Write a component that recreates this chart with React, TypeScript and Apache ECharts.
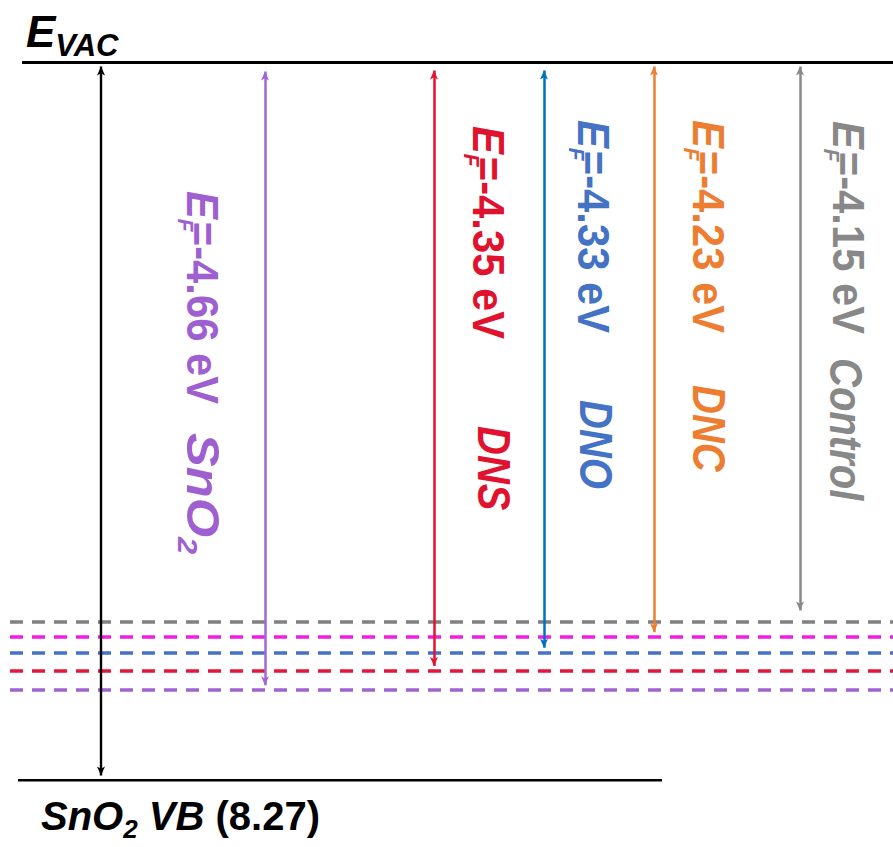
import React, { useEffect, useRef } from 'react';
import * as echarts from 'echarts';

// ---------------- data ----------------
const samples = ['SnO2', 'DNS', 'DNO', 'DNC', 'Control'];
const fermiLevels = [-4.66, -4.35, -4.33, -4.23, -4.15]; // eV
const vacuumLevel = 0;
const snO2ValenceBand = -8.27;
// the sketch is not to scale: depth at which each sample's arrow ends
const arrowTipLevels = [-7.23, -7.01, -6.8, -6.62, -6.37];
const arrowTopLevels = [-0.058, -0.046, -0.046, 0, 0];
// dashed level lines, top to bottom (schematic depths)
const dashedLevels = [-6.45, -6.62, -6.8, -7.01, -7.23];

// ---------------- styles / layout ----------------
const W = 893;
const H = 847;
const FONT = '"Liberation Sans", Arial, Helvetica, sans-serif';
const GRID = { left: 0, right: 0, top: 62, bottom: 67 };
const arrowColors = ['#A066D3', '#E11531', '#0070C0', '#ED7D31', '#888888'];
const textColors = ['#9E60D0', '#E0122E', '#4472C4', '#ED7D31', '#888888'];
const dashColors = ['#808080', '#F21CE6', '#4472C4', '#E3173A', '#9E63D0'];
const arrowX = [265, 434, 544, 654, 800];
const refArrowX = 101;
const dashX = [10, 893];
const vacLineX = [22, 893];
const vbLineX = [18, 662];
// rotated labels: baseline x and start y of the E_F text and of the name
const efLabelPos = [
  [187, 191], [473, 126], [578, 120], [693, 120], [833, 121],
];
const nameLabelPos = [
  [187, 433], [478, 426], [580, 400], [693, 385], [830, 358],
];
const nameScaleX = [1.1, 0.87, 0.87, 0.87, 0.87];
const ARROW_SIZE = [6, 9];

function richStyles(F: number, L: number, Fs: number, d: number, color: string, subW?: number) {
  const p = L / 2 + 0.3465 * (F - Fs) + d - Fs / 2;
  const base: any = { fontFamily: FONT, fontWeight: 'bold', fill: color, verticalAlign: 'top' };
  const s: any = { ...base, fontSize: Fs, lineHeight: Fs, fontStyle: 'italic', padding: [p, 0, 0, 0] };
  if (subW != null) s.width = subW;
  return {
    i: { ...base, fontSize: F, lineHeight: L, fontStyle: 'italic' },
    n: { ...base, fontSize: F, lineHeight: L, fontStyle: 'normal' },
    s,
  };
}

function vLabel(text: string, rich: any, xb: number, ys: number, F: number, L: number, scaleX = 1) {
  return {
    type: 'text',
    x: xb + L / 2 + 0.3465 * F,
    y: ys,
    rotation: -Math.PI / 2,
    scaleX,
    silent: true,
    style: { text, rich, align: 'left', verticalAlign: 'top' },
  };
}

function nameRich(name: string) {
  const m = name.match(/^(\D+)(\d*)$/);
  if (m && m[2]) return `{i|${m[1]}}{s|${m[2]}}`;
  return `{i|${name}}`;
}

export default function App() {
  const ref = useRef<HTMLDivElement>(null);
  useEffect(() => {
    document.body.style.margin = '0';
    const chart = echarts.init(ref.current!, null, { renderer: 'svg' });
    const pxPerUnit = (H - GRID.top - GRID.bottom) / (vacuumLevel - snO2ValenceBand);
    const inset = ARROW_SIZE[1] / 2 / pxPerUnit;

    const seg = (coords: number[][], color: string, width: number, type: any = 'solid', arrows = false) => ({
      type: 'lines',
      coordinateSystem: 'cartesian2d',
      silent: true,
      symbol: arrows ? ['arrow', 'arrow'] : ['none', 'none'],
      symbolSize: [ARROW_SIZE, ARROW_SIZE],
      lineStyle: { color, width, type, opacity: 1, cap: 'butt', curveness: 0 },
      itemStyle: { color },
      data: [{ coords }],
    });

    const series: any[] = [];
    // vacuum level and SnO2 valence band
    series.push(seg([[vacLineX[0], vacuumLevel], [vacLineX[1], vacuumLevel]], '#000', 3));
    series.push(seg([[vbLineX[0], snO2ValenceBand], [vbLineX[1], snO2ValenceBand]], '#000', 3));
    // dashed levels
    dashedLevels.forEach((lv, i) => {
      series.push(seg([[dashX[0], lv], [dashX[1], lv]], dashColors[i], 3.5, [13, 9]));
    });
    // reference arrow
    series.push(
      seg([[refArrowX, vacuumLevel - inset], [refArrowX, snO2ValenceBand + inset]], '#000', 2.4, 'solid', true)
    );
    // sample arrows
    samples.forEach((_, i) => {
      series.push(
        seg(
          [[arrowX[i], arrowTopLevels[i] - inset], [arrowX[i], arrowTipLevels[i] + inset]],
          arrowColors[i], 2.5, 'solid', true
        )
      );
    });

    const graphic: any[] = [];
    // E_VAC
    graphic.push({
      type: 'text', x: 26, y: 47 - (22 + 0.3465 * 44), silent: true,
      style: { text: '{i|E}{s|VAC}', rich: richStyles(44, 44, 31, 9, '#000'), align: 'left', verticalAlign: 'top' },
    });
    // SnO2 VB (8.27)
    graphic.push({
      type: 'text', x: 41, y: 830 - (20 + 0.3465 * 40), silent: true,
      style: {
        text: `{i|SnO}{s|2}{i| VB }{n|(${Math.abs(snO2ValenceBand).toFixed(2)})}`,
        rich: richStyles(40, 40, 26, 8, '#000'),
        align: 'left', verticalAlign: 'top',
      },
    });
    samples.forEach((name, i) => {
      const [xb, ys] = efLabelPos[i];
      graphic.push(
        vLabel(`{i|E}{s|F}{n|=${fermiLevels[i].toFixed(2)} eV}`, richStyles(44, 44, 22, 9, textColors[i], 3), xb, ys, 44, 44, 0.95)
      );
      const [nxb, nys] = nameLabelPos[i];
      graphic.push(vLabel(nameRich(name), richStyles(46, 46, 28, 9, textColors[i]), nxb, nys, 46, 46, nameScaleX[i]));
    });

    chart.setOption({
      animation: false,
      backgroundColor: '#fff',
      grid: { ...GRID, containLabel: false },
      xAxis: { type: 'value', min: 0, max: W, show: false },
      yAxis: { type: 'value', min: snO2ValenceBand, max: vacuumLevel, show: false },
      series,
      graphic,
    });
    return () => chart.dispose();
  }, []);
  return <div ref={ref} style={{ width: W, height: H, background: '#fff' }} />;
}
